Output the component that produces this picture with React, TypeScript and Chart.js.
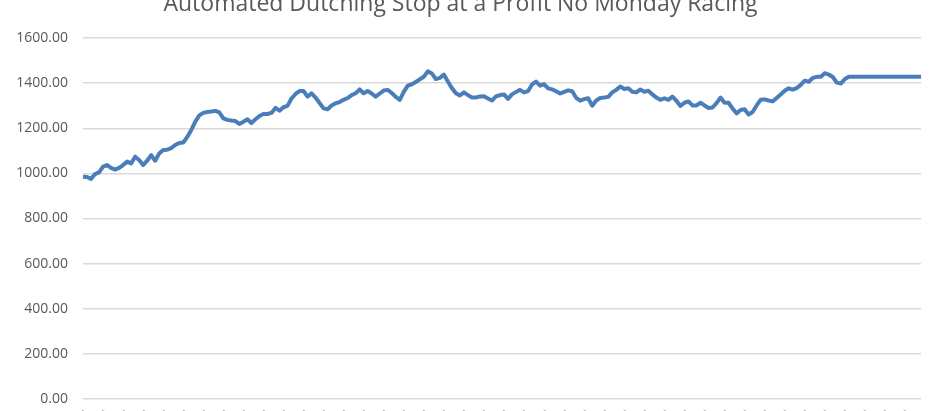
import { useEffect, useRef } from "react";
import { Chart, registerables } from "chart.js";

Chart.register(...registerables);

const chartTitle = "Automated Dutching Stop at a Profit No Monday Racing";

// running bank, one value per race day
const bank: number[] = [
  985, 984, 975, 997, 1004, 1030, 1037, 1024, 1017, 1024,
  1037, 1052, 1044, 1074, 1059, 1037, 1056, 1081, 1056, 1088,
  1104, 1105, 1112, 1126, 1135, 1137, 1161, 1192, 1229, 1257,
  1268, 1272, 1274, 1277, 1270, 1244, 1237, 1234, 1232, 1219,
  1229, 1240, 1223, 1240, 1254, 1263, 1263, 1268, 1290, 1278,
  1293, 1299, 1332, 1352, 1365, 1365, 1340, 1355, 1336, 1312,
  1288, 1284, 1301, 1311, 1316, 1326, 1334, 1347, 1355, 1372,
  1355, 1365, 1354, 1340, 1354, 1367, 1370, 1356, 1339, 1326,
  1361, 1389, 1395, 1405, 1417, 1428, 1452, 1443, 1418, 1423,
  1438, 1407, 1378, 1355, 1345, 1359, 1347, 1336, 1336, 1341,
  1342, 1332, 1323, 1341, 1347, 1350, 1330, 1350, 1361, 1370,
  1359, 1365, 1394, 1407, 1389, 1395, 1377, 1372, 1364, 1354,
  1361, 1368, 1364, 1335, 1322, 1329, 1333, 1300, 1323, 1334,
  1336, 1339, 1359, 1370, 1385, 1374, 1377, 1362, 1359, 1372,
  1362, 1366, 1350, 1336, 1326, 1333, 1326, 1340, 1322, 1299,
  1313, 1319, 1301, 1301, 1313, 1301, 1290, 1292, 1311, 1336,
  1313, 1313, 1288, 1266, 1281, 1284, 1261, 1272, 1301, 1326,
  1328, 1323, 1319, 1334, 1350, 1366, 1377, 1371, 1378, 1392,
  1411, 1406, 1423, 1428, 1428, 1444, 1438, 1427, 1402, 1398,
  1418, 1428, 1428, 1428, 1428, 1428, 1428, 1428, 1428, 1428,
  1428, 1428, 1428, 1428, 1428, 1428, 1428, 1428, 1428, 1428,
];

// race days, Mondays left out
const raceDays: string[] = [];
{
  const d = new Date(2015, 0, 1);
  while (raceDays.length < bank.length) {
    if (d.getDay() !== 1) {
      const dd = String(d.getDate()).padStart(2, "0");
      const mm = String(d.getMonth() + 1).padStart(2, "0");
      raceDays.push(`${dd}/${mm}/${d.getFullYear()}`);
    }
    d.setDate(d.getDate() + 1);
  }
}

const yMin = 0;
const yMax = 1600;
const yStep = 200;
const labelEvery = 5;

export default function App() {
  const canvasRef = useRef<HTMLCanvasElement | null>(null);
  const chartInstance = useRef<Chart | null>(null);

  useEffect(() => {
    if (!canvasRef.current) return;
    if (chartInstance.current) chartInstance.current.destroy();

    const font = "'Open Sans', 'Noto Sans', sans-serif";

    chartInstance.current = new Chart(canvasRef.current, {
      type: "line",
      data: {
        labels: raceDays,
        datasets: [
          {
            label: chartTitle,
            data: bank,
            borderColor: "#4a7ebb",
            borderWidth: 4,
            borderJoinStyle: "round",
            pointRadius: 0,
            tension: 0,
            fill: false,
          },
        ],
      },
      options: {
        animation: false,
        responsive: true,
        maintainAspectRatio: false,
        layout: { padding: { left: 0, right: 19, top: 0, bottom: 0 } },
        plugins: {
          legend: { display: false },
          tooltip: { enabled: false },
          title: {
            display: true,
            text: chartTitle,
            color: "#595959",
            font: { family: font, size: 23, weight: "normal" },
            padding: { top: 0, bottom: 19.4 },
          },
        },
        scales: {
          x: {
            grid: { display: false, drawTicks: false },
            border: { display: false },
            ticks: {
              autoSkip: false,
              minRotation: 90,
              maxRotation: 90,
              padding: 11,
              color: "#595959",
              font: { family: font, size: 12 },
              callback: (_v, i) => (i % labelEvery === 0 ? raceDays[i] : null),
            },
            afterFit: (s) => {
              s.height = 64;
            },
          },
          y: {
            min: yMin,
            max: yMax,
            grid: { color: "#d9d9d9", lineWidth: 1.4, drawTicks: false },
            border: { display: false },
            ticks: {
              stepSize: yStep,
              padding: 15,
              color: "#595959",
              font: { family: font, size: 14 },
              callback: (v) => Number(v).toFixed(2),
            },
            afterFit: (s) => {
              s.width = 83;
            },
          },
        },
      },
    });

    return () => {
      chartInstance.current?.destroy();
      chartInstance.current = null;
    };
  }, []);

  return (
    <div
      style={{
        position: "fixed",
        top: 0,
        left: 0,
        width: 940,
        height: 411,
        overflow: "hidden",
        background: "#fff",
      }}
    >
      <div style={{ position: "absolute", top: -9, left: 0, width: 940, height: 472 }}>
        <canvas ref={canvasRef} />
      </div>
    </div>
  );
}
